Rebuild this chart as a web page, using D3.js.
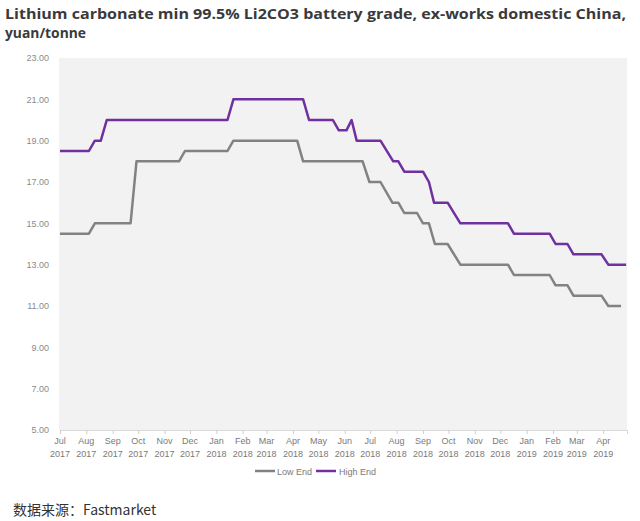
<!DOCTYPE html>
<html>
<head>
<meta charset="utf-8">
<script src="https://cdn.jsdelivr.net/npm/d3@7"></script>
<style>
  html, body { margin: 0; padding: 0; background: #ffffff; }
  svg { display: block; }
</style>
</head>
<body>
<svg id="chart" width="640" height="521"></svg>
<script>
// ---------- data ----------
const seriesNames = ["Low End", "High End"];
const lowDates = ["2017-07-01","2017-08-04","2017-08-11","2017-09-22","2017-09-29","2017-11-18","2017-11-25","2018-01-14","2018-01-21","2018-04-06","2018-04-13","2018-06-22","2018-06-30","2018-07-13","2018-07-27","2018-08-03","2018-08-10","2018-08-25","2018-09-01","2018-09-08","2018-09-15","2018-09-30","2018-10-15","2018-12-10","2018-12-17","2019-01-28","2019-02-04","2019-02-18","2019-02-25","2019-03-30","2019-04-07","2019-04-22"];
const lowValues = [14.5,14.5,15.0,15.0,18.0,18.0,18.5,18.5,19.0,19.0,18.0,18.0,17.0,17.0,16.0,16.0,15.5,15.5,15.0,15.0,14.0,14.0,13.0,13.0,12.5,12.5,12.0,12.0,11.5,11.5,11.0,11.0];
const highDates = ["2017-07-01","2017-08-04","2017-08-11","2017-08-18","2017-08-25","2018-01-14","2018-01-21","2018-04-13","2018-04-20","2018-05-18","2018-05-25","2018-06-03","2018-06-09","2018-06-15","2018-07-13","2018-07-28","2018-08-03","2018-08-10","2018-09-01","2018-09-08","2018-09-14","2018-09-30","2018-10-15","2018-12-10","2018-12-17","2019-01-28","2019-02-04","2019-02-18","2019-02-25","2019-03-30","2019-04-07","2019-04-28"];
const highValues = [18.5,18.5,19.0,19.0,20.0,20.0,21.0,21.0,20.0,20.0,19.5,19.5,20.0,19.0,19.0,18.0,18.0,17.5,17.5,17.0,16.0,16.0,15.0,15.0,14.5,14.5,14.0,14.0,13.5,13.5,13.0,13.0];
const monthTicks = ["2017-07-01","2017-08-01","2017-09-01","2017-10-01","2017-11-01","2017-12-01","2018-01-01","2018-02-01","2018-03-01","2018-04-01","2018-05-01","2018-06-01","2018-07-01","2018-08-01","2018-09-01","2018-10-01","2018-11-01","2018-12-01","2019-01-01","2019-02-01","2019-03-01","2019-04-01"];
const yTicks = [5,7,9,11,13,15,17,19,21,23];
const titleLines = ["Lithium carbonate min 99.5% Li2CO3 battery grade, ex-works domestic China,", "yuan/tonne"];
const sourceText = "数据来源：Fastmarket";

// ---------- layout ----------
const svg = d3.select("#chart");
const plot = { left: 59, right: 627, top: 58, bottom: 430 };
const parse = d3.timeParse("%Y-%m-%d");
const colors = { "Low End": "#828282", "High End": "#7030a0" };

const x = d3.scaleTime()
  .domain([parse("2017-07-01"), parse("2019-04-29")])
  .range([60, plot.right]);
const y = d3.scaleLinear().domain([5, 23]).range([plot.bottom, plot.top]);

// title
const title = svg.append("g").attr("fill", "#3a3a3a")
  .style("font-family", "'Open Sans', sans-serif").style("font-weight", "700").style("font-size", "15px");
title.append("text").attr("x", 5).attr("y", 19).text(titleLines[0])
  .attr("textLength", 621).attr("lengthAdjust", "spacingAndGlyphs");
title.append("text").attr("x", 5).attr("y", 37.5).text(titleLines[1])
  .attr("textLength", 81).attr("lengthAdjust", "spacingAndGlyphs");

// plot background
svg.append("rect")
  .attr("x", plot.left).attr("y", plot.top)
  .attr("width", plot.right - plot.left).attr("height", plot.bottom - plot.top)
  .attr("fill", "#f2f2f2");

// y axis
const yAxis = svg.append("g").attr("transform", `translate(${plot.left - 10},0)`)
  .call(d3.axisLeft(y).tickValues(yTicks).tickFormat(d3.format(".2f")).tickSize(0).tickPadding(0));
yAxis.select(".domain").remove();
yAxis.selectAll("text").attr("fill", "#8a8a8a")
  .style("font-family", "'Liberation Sans', Arial, sans-serif").style("font-size", "9px");

// x axis
const monthDates = monthTicks.map(parse);
const xAxis = svg.append("g").attr("transform", `translate(0,${plot.bottom})`)
  .call(d3.axisBottom(x).tickValues(monthDates).tickSize(4).tickFormat(""));
xAxis.select(".domain").attr("stroke", "#d9d9d9");
xAxis.selectAll(".tick line").attr("stroke", "#cfcfcf");
const fmtM = d3.timeFormat("%b"), fmtY = d3.timeFormat("%Y");
const xl = svg.append("g").attr("fill", "#7a7a7a")
  .style("font-family", "'Liberation Sans', Arial, sans-serif").style("font-size", "9px")
  .attr("text-anchor", "middle");
xl.selectAll("text.m").data(monthDates).join("text").attr("class", "m")
  .attr("x", d => x(d)).attr("y", 444).text(d => fmtM(d));
xl.selectAll("text.y").data(monthDates).join("text").attr("class", "y")
  .attr("x", d => x(d)).attr("y", 457).text(d => fmtY(d));

// lines
const line = d3.line().x(d => x(d.date)).y(d => y(d.value));
const series = [
  { name: "Low End", data: lowDates.map((d, i) => ({ date: parse(d), value: lowValues[i] })) },
  { name: "High End", data: highDates.map((d, i) => ({ date: parse(d), value: highValues[i] })) }
];
svg.append("g").selectAll("path").data(series).join("path")
  .attr("d", s => line(s.data))
  .attr("fill", "none")
  .attr("stroke", s => colors[s.name])
  .attr("stroke-width", 2.5)
  .attr("stroke-linejoin", "round");

// legend
const legendPos = [{ lx: 255, tx: 277 }, { lx: 316, tx: 339 }];
const lg = svg.append("g").style("font-family", "'Liberation Sans', Arial, sans-serif").style("font-size", "9px");
seriesNames.forEach((n, i) => {
  lg.append("line").attr("x1", legendPos[i].lx).attr("x2", legendPos[i].lx + 20)
    .attr("y1", 471).attr("y2", 471).attr("stroke", colors[n]).attr("stroke-width", 2.5);
  lg.append("text").attr("x", legendPos[i].tx).attr("y", 474.5).attr("fill", "#7a7a7a").text(n);
});

// source
svg.append("text").attr("x", 13).attr("y", 515)
  .attr("fill", "#333")
  .style("font-family", "'Noto Sans CJK SC', 'Noto Sans', sans-serif").style("font-size", "14px")
  .text(sourceText);
</script>
</body>
</html>
